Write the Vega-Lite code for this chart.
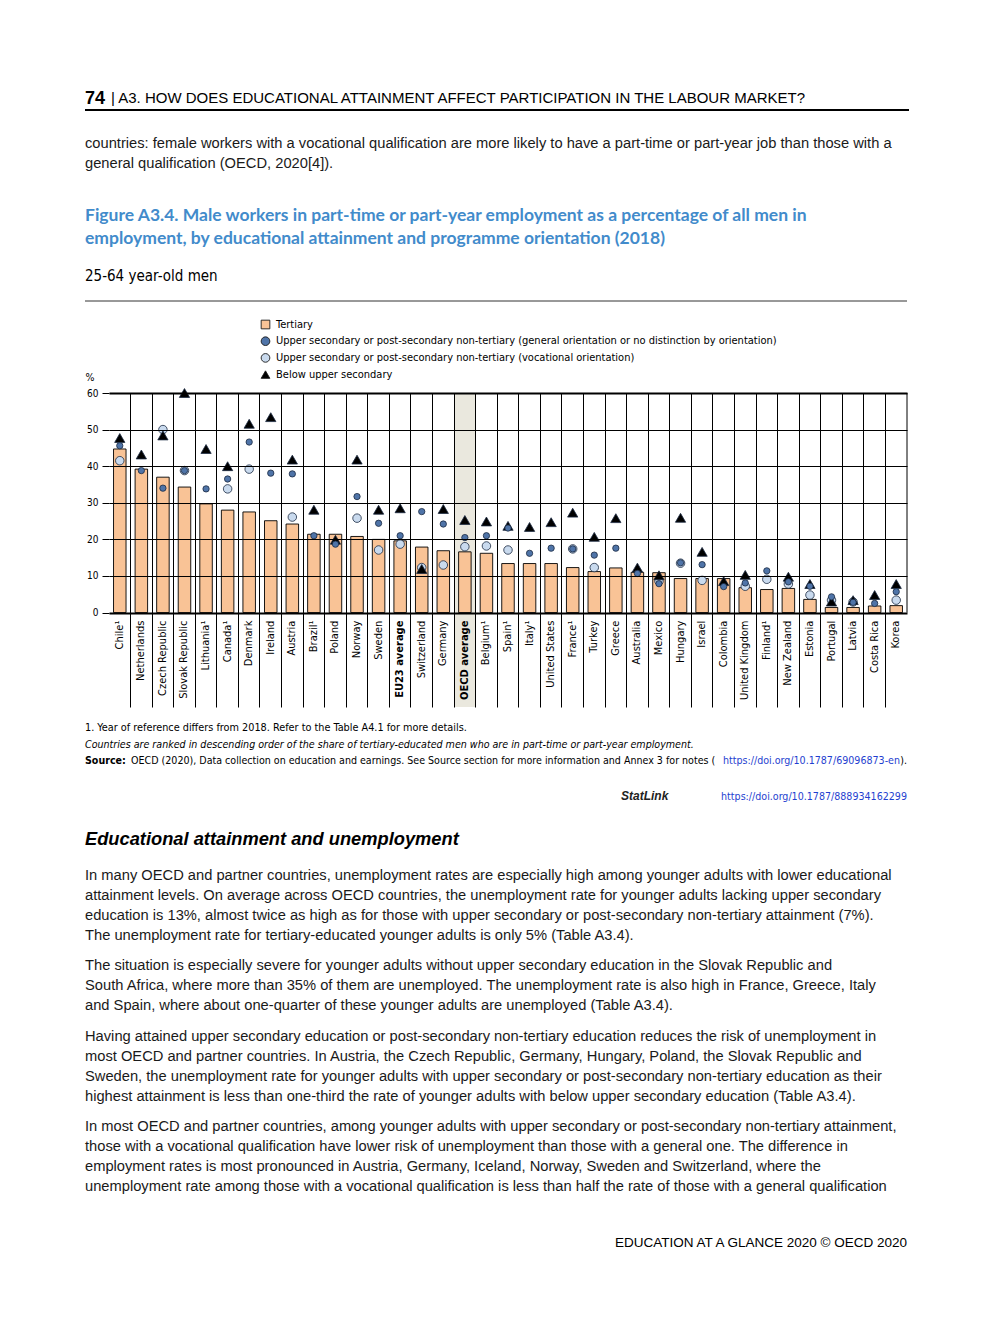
{
  "$schema": "https://vega.github.io/schema/vega-lite/v6.json",
  "autosize": {"type": "none"},
  "padding": {"left": 109, "top": 393, "right": 85, "bottom": 616},
  "width": 798,
  "height": 314,
  "background": "white",
  "config": {"view": {"stroke": null}, "font": "Liberation Sans"},
  "data": {
    "values": [
      {"country": "Chile¹", "tertiary": 44.7, "gen": 45.6, "voc": 41.5, "below": 47.7},
      {"country": "Netherlands", "tertiary": 39.2, "gen": 38.8, "voc": null, "below": 43.2},
      {"country": "Czech Republic", "tertiary": 37.0, "gen": 34.0, "voc": 50.0, "below": 48.4},
      {"country": "Slovak Republic", "tertiary": 34.3, "gen": 38.8, "voc": 38.8, "below": 60.0},
      {"country": "Lithuania¹", "tertiary": 29.7, "gen": 33.8, "voc": null, "below": 44.7},
      {"country": "Canada¹", "tertiary": 28.0, "gen": 36.5, "voc": 33.8, "below": 40.0},
      {"country": "Denmark", "tertiary": 27.5, "gen": 46.6, "voc": 39.2, "below": 51.6},
      {"country": "Ireland", "tertiary": 25.1, "gen": 38.1, "voc": null, "below": 53.4},
      {"country": "Austria", "tertiary": 24.2, "gen": 37.9, "voc": 26.1, "below": 41.8},
      {"country": "Brazil¹", "tertiary": 21.4, "gen": 21.0, "voc": null, "below": 28.1},
      {"country": "Poland", "tertiary": 21.4, "gen": 18.7, "voc": null, "below": 19.9},
      {"country": "Norway", "tertiary": 20.8, "gen": 31.7, "voc": 25.8, "below": 41.8},
      {"country": "Sweden", "tertiary": 20.0, "gen": 24.4, "voc": 17.1, "below": 28.1},
      {"country": "EU23 average", "tertiary": 19.6, "gen": 21.0, "voc": 18.7, "below": 28.5},
      {"country": "Switzerland", "tertiary": 17.9, "gen": 27.6, "voc": 12.3, "below": 11.9},
      {"country": "Germany", "tertiary": 16.9, "gen": 24.2, "voc": 13.0, "below": 28.3},
      {"country": "OECD average", "tertiary": 16.6, "gen": 20.5, "voc": 18.0, "below": 25.3},
      {"country": "Belgium¹", "tertiary": 16.2, "gen": 21.0, "voc": 18.2, "below": 24.9},
      {"country": "Spain¹", "tertiary": 13.4, "gen": 23.1, "voc": 17.1, "below": 23.7},
      {"country": "Italy¹", "tertiary": 13.4, "gen": 16.2, "voc": null, "below": 23.4},
      {"country": "United States", "tertiary": 13.4, "gen": 17.6, "voc": null, "below": 24.7},
      {"country": "France¹", "tertiary": 12.3, "gen": 17.4, "voc": 17.4, "below": 27.3},
      {"country": "Turkey", "tertiary": 11.2, "gen": 15.7, "voc": 12.3, "below": 20.7},
      {"country": "Greece", "tertiary": 12.2, "gen": 17.6, "voc": null, "below": 25.8},
      {"country": "Australia", "tertiary": 11.0, "gen": 10.7, "voc": null, "below": 12.3},
      {"country": "Mexico", "tertiary": 10.9, "gen": 7.9, "voc": 8.6, "below": 10.2},
      {"country": "Hungary", "tertiary": 9.3, "gen": 13.6, "voc": 13.5, "below": 25.9},
      {"country": "Israel", "tertiary": 9.3, "gen": 13.1, "voc": 8.8, "below": 16.6},
      {"country": "Colombia", "tertiary": 9.3, "gen": 7.1, "voc": null, "below": 8.6},
      {"country": "United Kingdom", "tertiary": 6.8, "gen": 8.1, "voc": 7.2, "below": 10.3},
      {"country": "Finland¹", "tertiary": 6.3, "gen": 11.4, "voc": 9.1, "below": null},
      {"country": "New Zealand", "tertiary": 6.6, "gen": 8.4, "voc": 7.8, "below": 9.8},
      {"country": "Estonia", "tertiary": 3.6, "gen": 7.2, "voc": 4.8, "below": 7.8},
      {"country": "Portugal", "tertiary": 1.4, "gen": 4.3, "voc": 3.4, "below": 3.0},
      {"country": "Latvia", "tertiary": 1.4, "gen": 2.8, "voc": 2.9, "below": 3.4},
      {"country": "Costa Rica", "tertiary": 1.8, "gen": 2.5, "voc": null, "below": 4.8},
      {"country": "Korea", "tertiary": 1.9, "gen": 5.7, "voc": 3.4, "below": 7.8}
    ]
  },
  "layer": [
    {
      "transform": [{"filter": "datum.country === 'OECD average'"}],
      "mark": {"type": "bar", "fill": "#EAE8DE", "width": {"band": 1}},
      "encoding": {
        "x": {"field": "country", "type": "nominal", "title": null},
        "y": {"datum": 60, "type": "quantitative", "title": "%"},
        "y2": {"datum": -25.8}
      }
    },
    {
      "mark": {"type": "bar", "fill": "#F9C396", "stroke": "#000000", "strokeWidth": 0.9, "width": {"band": 0.58}},
      "encoding": {
        "x": {
          "field": "country", "type": "nominal", "title": null,
          "scale": {
            "domain": ["Chile¹", "Netherlands", "Czech Republic", "Slovak Republic", "Lithuania¹", "Canada¹", "Denmark", "Ireland", "Austria", "Brazil¹", "Poland", "Norway", "Sweden", "EU23 average", "Switzerland", "Germany", "OECD average", "Belgium¹", "Spain¹", "Italy¹", "United States", "France¹", "Turkey", "Greece", "Australia", "Mexico", "Hungary", "Israel", "Colombia", "United Kingdom", "Finland¹", "New Zealand", "Estonia", "Portugal", "Latvia", "Costa Rica", "Korea"],
            "paddingInner": 0, "paddingOuter": 0
          },
          "axis": {
            "title": null, "labels": false, "ticks": false, "domain": false,
            "grid": true, "gridColor": "#000000", "gridWidth": 1, "bandPosition": 0,
            "gridOpacity": {"condition": {"test": "datum.value === 'Chile¹'", "value": 0}, "value": 1},
            "zindex": 1
          }
        },
        "y": {
          "field": "tertiary", "type": "quantitative", "title": "%",
          "scale": {"domain": [-25.8, 60], "nice": false, "zero": false},
          "axis": {
            "values": [0, 10, 20, 30, 40, 50, 60],
            "title": "%", "titleAngle": 0, "titleX": -24, "titleY": -16, "titleAlign": "left", "titleBaseline": "middle",
            "titleFont": "DejaVu Sans Condensed, sans-serif", "titleFontSize": 10.5, "titleFontWeight": "normal", "titleColor": "#000000",
            "labelFont": "DejaVu Sans Condensed, sans-serif", "labelFontSize": 10, "labelColor": "#000000", "labelPadding": 4,
            "tickSize": 7, "tickColor": "#000000", "domain": false,
            "grid": true, "gridColor": "#000000",
            "gridWidth": {"condition": {"test": "datum.value === 0 || datum.value === 60", "value": 2.2}, "value": 1},
            "zindex": 1
          }
        },
        "y2": {"datum": 0}
      }
    },
    {
      "transform": [{"filter": "datum.country === 'Korea'"}],
      "mark": {"type": "rule", "color": "#000000", "strokeWidth": 1},
      "encoding": {
        "x": {"field": "country", "type": "nominal", "title": null, "bandPosition": 1},
        "y": {"datum": 60, "type": "quantitative", "title": "%"},
        "y2": {"datum": 0}
      }
    },
    {
      "transform": [
        {"fold": ["voc", "below", "gen"], "as": ["series", "value"]},
        {"filter": "datum.value != null"}
      ],
      "mark": {"type": "point", "filled": true, "opacity": 1, "stroke": "#1b2a41", "strokeWidth": 0.8},
      "encoding": {
        "x": {"field": "country", "type": "nominal", "title": null},
        "y": {"field": "value", "type": "quantitative", "title": "%"},
        "color": {
          "field": "series", "type": "nominal",
          "scale": {"domain": ["tertiary", "gen", "voc", "below"], "range": ["#F9C396", "#4F74A8", "#C9DAEE", "#000000"]},
          "legend": {
            "orient": "none", "legendX": 151, "legendY": -74, "direction": "vertical", "title": null,
            "symbolSize": 75, "symbolStrokeColor": "#1b1b1b", "symbolStrokeWidth": 0.9,
            "labelFont": "DejaVu Sans Condensed, sans-serif", "labelFontSize": 11, "labelColor": "#000000",
            "labelLimit": 700, "labelOffset": 5, "rowPadding": 3.7, "padding": 0,
            "labelExpr": "datum.value === 'tertiary' ? 'Tertiary' : datum.value === 'gen' ? 'Upper secondary or post-secondary non-tertiary (general orientation or no distinction by orientation)' : datum.value === 'voc' ? 'Upper secondary or post-secondary non-tertiary (vocational orientation)' : 'Below upper secondary'"
          }
        },
        "shape": {
          "field": "series", "type": "nominal",
          "scale": {"domain": ["tertiary", "gen", "voc", "below"], "range": ["square", "circle", "circle", "triangle-up"]},
          "legend": {
            "orient": "none", "legendX": 151, "legendY": -74, "direction": "vertical", "title": null,
            "symbolSize": 75, "symbolStrokeColor": "#1b1b1b", "symbolStrokeWidth": 0.9,
            "labelFont": "DejaVu Sans Condensed, sans-serif", "labelFontSize": 11, "labelColor": "#000000",
            "labelLimit": 700, "labelOffset": 5, "rowPadding": 3.7, "padding": 0,
            "labelExpr": "datum.value === 'tertiary' ? 'Tertiary' : datum.value === 'gen' ? 'Upper secondary or post-secondary non-tertiary (general orientation or no distinction by orientation)' : datum.value === 'voc' ? 'Upper secondary or post-secondary non-tertiary (vocational orientation)' : 'Below upper secondary'"
          }
        },
        "size": {
          "field": "series", "type": "ordinal",
          "scale": {"domain": ["gen", "voc", "below"], "range": [40, 105, 105]},
          "legend": null
        }
      }
    },
    {
      "transform": [{"filter": "datum.country !== 'EU23 average' && datum.country !== 'OECD average'"}],
      "mark": {"type": "text", "angle": 270, "align": "right", "baseline": "middle", "font": "DejaVu Sans Condensed, sans-serif", "fontSize": 11, "color": "#000000"},
      "encoding": {
        "x": {"field": "country", "type": "nominal", "title": null},
        "y": {"datum": -2.2, "type": "quantitative", "title": "%"},
        "text": {"field": "country", "type": "nominal"}
      }
    },
    {
      "transform": [{"filter": "datum.country === 'EU23 average' || datum.country === 'OECD average'"}],
      "mark": {"type": "text", "angle": 270, "align": "right", "baseline": "middle", "font": "DejaVu Sans Condensed, sans-serif", "fontSize": 11, "fontWeight": "bold", "color": "#000000"},
      "encoding": {
        "x": {"field": "country", "type": "nominal", "title": null},
        "y": {"datum": -2.2, "type": "quantitative", "title": "%"},
        "text": {"field": "country", "type": "nominal"}
      }
    },
    {
      "data": {"values": [{}]},
      "mark": {"type": "text", "text": "74", "align": "left", "baseline": "alphabetic", "dx": -423, "dy": -446, "font": "Liberation Sans", "fontSize": 18, "fontWeight": "bold", "color": "#000000"},
      "encoding": {}
    },
    {
      "data": {"values": [{}]},
      "mark": {"type": "text", "text": "| A3. HOW DOES EDUCATIONAL ATTAINMENT AFFECT PARTICIPATION IN THE LABOUR MARKET?", "align": "left", "baseline": "alphabetic", "dx": -397, "dy": -447, "font": "Liberation Sans", "fontSize": 15, "color": "#000000"},
      "encoding": {}
    },
    {
      "data": {"values": [{}]},
      "mark": {"type": "rule", "color": "#000000", "strokeWidth": 2},
      "encoding": {"x": {"value": -24}, "x2": {"value": 800}, "y": {"value": -283}}
    },
    {
      "data": {"values": [{}]},
      "mark": {"type": "text", "text": ["countries: female workers with a vocational qualification are more likely to have a part-time or part-year job than those with a", "general qualification (OECD, 2020[4])."], "lineHeight": 20, "align": "left", "baseline": "alphabetic", "dx": -423, "dy": -402, "font": "Liberation Sans", "fontSize": 14.7, "color": "#1a1a1a"},
      "encoding": {}
    },
    {
      "data": {"values": [{}]},
      "mark": {"type": "text", "text": ["Figure A3.4. Male workers in part-time or part-year employment as a percentage of all men in", "employment, by educational attainment and programme orientation (2018)"], "lineHeight": 23, "align": "left", "baseline": "alphabetic", "dx": -423, "dy": -329, "font": "Lato, DejaVu Sans Condensed, sans-serif", "fontSize": 17.5, "fontWeight": "bold", "color": "#428BCB"},
      "encoding": {}
    },
    {
      "data": {"values": [{}]},
      "mark": {"type": "text", "text": "25-64 year-old men", "align": "left", "baseline": "alphabetic", "dx": -423, "dy": -269, "font": "DejaVu Sans Condensed, sans-serif", "fontSize": 15, "color": "#000000"},
      "encoding": {}
    },
    {
      "data": {"values": [{}]},
      "mark": {"type": "rule", "color": "#333333", "strokeWidth": 1},
      "encoding": {"x": {"value": -24}, "x2": {"value": 798}, "y": {"value": -92}}
    },
    {
      "data": {"values": [{}]},
      "mark": {"type": "text", "text": "1. Year of reference differs from 2018. Refer to the Table A4.1 for more details.", "align": "left", "baseline": "alphabetic", "dx": -423, "dy": 181, "font": "DejaVu Sans Condensed, sans-serif", "fontSize": 10.8, "color": "#000000"},
      "encoding": {}
    },
    {
      "data": {"values": [{}]},
      "mark": {"type": "text", "text": "Countries are ranked in descending order of the share of tertiary-educated men who are in part-time or part-year employment.", "align": "left", "baseline": "alphabetic", "dx": -423, "dy": 198, "font": "DejaVu Sans Condensed, sans-serif", "fontSize": 10.6, "fontStyle": "italic", "color": "#000000"},
      "encoding": {}
    },
    {
      "data": {"values": [{}]},
      "mark": {"type": "text", "text": "Source:", "align": "left", "baseline": "alphabetic", "dx": -423, "dy": 214, "font": "DejaVu Sans Condensed, sans-serif", "fontSize": 10.6, "fontWeight": "bold", "color": "#000000"},
      "encoding": {}
    },
    {
      "data": {"values": [{}]},
      "mark": {"type": "text", "text": "OECD (2020), Data collection on education and earnings. See Source section for more information and Annex 3 for notes (", "align": "left", "baseline": "alphabetic", "dx": -377, "dy": 214, "font": "DejaVu Sans Condensed, sans-serif", "fontSize": 10.6, "color": "#000000"},
      "encoding": {}
    },
    {
      "data": {"values": [{}]},
      "mark": {"type": "text", "text": "https://doi.org/10.1787/69096873-en", "align": "right", "baseline": "alphabetic", "dx": 392, "dy": 214, "font": "DejaVu Sans Condensed, sans-serif", "fontSize": 10.6, "color": "#1F3FD0"},
      "encoding": {}
    },
    {
      "data": {"values": [{}]},
      "mark": {"type": "text", "text": ").", "align": "right", "baseline": "alphabetic", "dx": 399, "dy": 214, "font": "DejaVu Sans Condensed, sans-serif", "fontSize": 10.6, "color": "#000000"},
      "encoding": {}
    },
    {
      "data": {"values": [{}]},
      "mark": {"type": "text", "text": "StatLink", "align": "left", "baseline": "alphabetic", "dx": 113, "dy": 250, "font": "Liberation Sans", "fontSize": 12, "fontWeight": "bold", "fontStyle": "italic", "color": "#222222"},
      "encoding": {}
    },
    {
      "data": {"values": [{}]},
      "mark": {"type": "text", "text": "https://doi.org/10.1787/888934162299", "align": "right", "baseline": "alphabetic", "dx": 399, "dy": 250, "font": "DejaVu Sans Condensed, sans-serif", "fontSize": 10.6, "color": "#1F3FD0"},
      "encoding": {}
    },
    {
      "data": {"values": [{}]},
      "mark": {"type": "text", "text": "Educational attainment and unemployment", "align": "left", "baseline": "alphabetic", "dx": -423, "dy": 295, "font": "Liberation Sans", "fontSize": 18.3, "fontWeight": "bold", "fontStyle": "italic", "color": "#000000"},
      "encoding": {}
    },
    {
      "data": {"values": [{}]},
      "mark": {"type": "text", "text": ["In many OECD and partner countries, unemployment rates are especially high among younger adults with lower educational", "attainment levels. On average across OECD countries, the unemployment rate for younger adults lacking upper secondary", "education is 13%, almost twice as high as for those with upper secondary or post-secondary non-tertiary attainment (7%).", "The unemployment rate for tertiary-educated younger adults is only 5% (Table A3.4)."], "lineHeight": 20, "align": "left", "baseline": "alphabetic", "dx": -423, "dy": 330, "font": "Liberation Sans", "fontSize": 14.7, "color": "#1a1a1a"},
      "encoding": {}
    },
    {
      "data": {"values": [{}]},
      "mark": {"type": "text", "text": ["The situation is especially severe for younger adults without upper secondary education in the Slovak Republic and", "South Africa, where more than 35% of them are unemployed. The unemployment rate is also high in France, Greece, Italy", "and Spain, where about one-quarter of these younger adults are unemployed (Table A3.4)."], "lineHeight": 20, "align": "left", "baseline": "alphabetic", "dx": -423, "dy": 420, "font": "Liberation Sans", "fontSize": 14.7, "color": "#1a1a1a"},
      "encoding": {}
    },
    {
      "data": {"values": [{}]},
      "mark": {"type": "text", "text": ["Having attained upper secondary education or post-secondary non-tertiary education reduces the risk of unemployment in", "most OECD and partner countries. In Austria, the Czech Republic, Germany, Hungary, Poland, the Slovak Republic and", "Sweden, the unemployment rate for younger adults with upper secondary or post-secondary non-tertiary education as their", "highest attainment is less than one-third the rate of younger adults with below upper secondary education (Table A3.4)."], "lineHeight": 20, "align": "left", "baseline": "alphabetic", "dx": -423, "dy": 491, "font": "Liberation Sans", "fontSize": 14.7, "color": "#1a1a1a"},
      "encoding": {}
    },
    {
      "data": {"values": [{}]},
      "mark": {"type": "text", "text": ["In most OECD and partner countries, among younger adults with upper secondary or post-secondary non-tertiary attainment,", "those with a vocational qualification have lower risk of unemployment than those with a general one. The difference in", "employment rates is most pronounced in Austria, Germany, Iceland, Norway, Sweden and Switzerland, where the", "unemployment rate among those with a vocational qualification is less than half the rate of those with a general qualification"], "lineHeight": 20, "align": "left", "baseline": "alphabetic", "dx": -423, "dy": 581, "font": "Liberation Sans", "fontSize": 14.7, "color": "#1a1a1a"},
      "encoding": {}
    },
    {
      "data": {"values": [{}]},
      "mark": {"type": "text", "text": "EDUCATION AT A GLANCE 2020 © OECD 2020", "align": "right", "baseline": "alphabetic", "dx": 399, "dy": 697, "font": "Liberation Sans", "fontSize": 13.5, "color": "#000000"},
      "encoding": {}
    }
  ]
}
